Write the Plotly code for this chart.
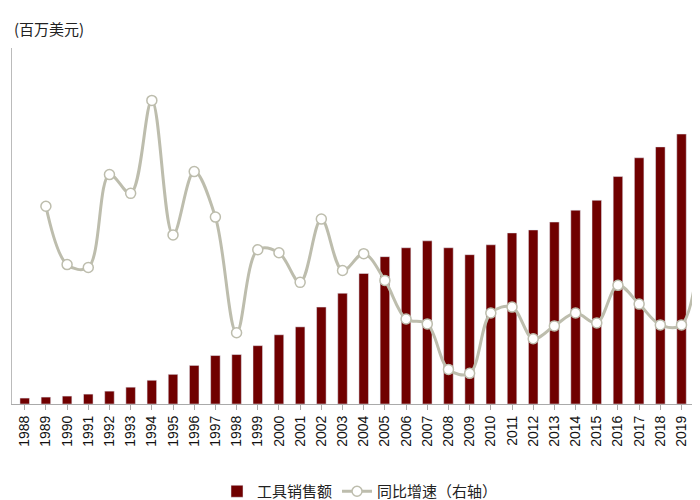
import plotly.graph_objects as go

years = list(range(1988, 2021))
sales = [6, 7, 8, 10, 13, 17, 24, 30, 39, 49, 50, 59, 70, 78, 98, 112, 132, 149, 158, 165,
         158, 151, 161, 173, 176, 184, 196, 206, 230, 249, 260, 273, 333]
growth_years = years[1:]
growth = [200, 141, 138, 232, 213, 307, 171, 235, 189, 72, 156, 153, 123, 187, 135, 152,
          125, 86, 81, 35, 31, 92, 98, 66, 79, 92, 82, 120, 101, 80, 80, 199]

fig = go.Figure()
fig.add_trace(go.Bar(x=years, y=sales, name="工具销售额", marker_color="#700000"))
fig.add_trace(go.Scatter(
    x=growth_years, y=growth, name="同比增速（右轴）", yaxis="y2",
    mode="lines+markers", line=dict(color="#bdbdad", width=3, shape="spline"),
    marker=dict(size=10, color="white", line=dict(color="#bdbdad", width=1.5)),
))
fig.update_layout(
    width=700, height=500, plot_bgcolor="white", paper_bgcolor="white",
    margin=dict(l=4, r=0, t=40, b=100),
    font=dict(family="Noto Sans CJK SC", size=13, color="#222"),
    xaxis=dict(range=[1987.4, 2020.25], tickmode="linear", tick0=1988, dtick=1,
               tickangle=-90, tickfont=dict(family="Liberation Sans", size=14, color="#111"),
               showline=True, linecolor="#aaa", ticks="outside", ticklen=5, tickcolor="#aaa"),
    yaxis=dict(range=[0, 360], showticklabels=False, showgrid=False, zeroline=False,
               showline=True, linecolor="#bbb"),
    yaxis2=dict(range=[0, 360], overlaying="y", side="right", showticklabels=False,
                showgrid=False, zeroline=False),
    legend=dict(orientation="h", x=0.5, xanchor="center", y=-0.2, yanchor="top",
                font=dict(size=15)),
    bargap=0.55,
    annotations=[dict(text="(百万美元)", x=0.0, xref="paper", xanchor="left",
                      y=1.02, yref="paper", yanchor="bottom", showarrow=False,
                      font=dict(size=15, color="#222"))],
)
fig.write_html("out.html")
